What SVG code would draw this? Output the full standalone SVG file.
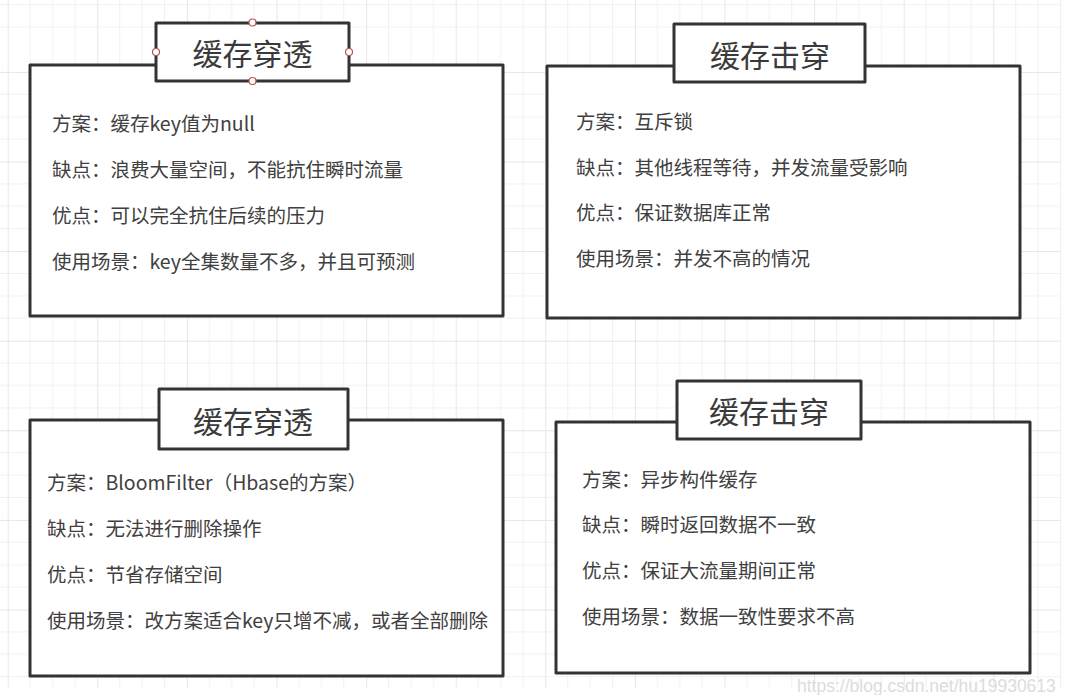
<svg xmlns="http://www.w3.org/2000/svg" width="1087" height="695" viewBox="0 0 1087 695">
<defs>
<pattern id="grid" patternUnits="userSpaceOnUse" x="7.7" y="71.9" width="89.6" height="89.6">
<path d="M22.4 0V89.6M44.8 0V89.6M67.2 0V89.6M0 22.4H89.6M0 44.8H89.6M0 67.2H89.6" stroke="#f1f1f1" stroke-width="1" fill="none"/>
<path d="M0.5 0V89.6M0 0.5H89.6" stroke="#e6e6e6" stroke-width="1" fill="none"/>
</pattern>
<style>
.box{fill:#fff;stroke:#333;stroke-width:3;stroke-linejoin:round}
.title{font-family:"Microsoft YaHei","Noto Sans CJK SC",sans-serif;font-size:30px;fill:#3a3a3a;text-anchor:middle}
.txt{font-family:"Microsoft YaHei","Noto Sans CJK SC",sans-serif;font-size:19.5px;fill:#404040}
.handle{fill:#fff;stroke:#b85450;stroke-width:1.2}
.wm{font-family:"Liberation Sans",Arial,sans-serif;font-size:17.5px;fill:#dcdcdc}
</style>
</defs>
<rect x="0" y="0" width="1087" height="695" fill="#fff"/>
<rect x="0" y="0" width="1061" height="688" fill="url(#grid)"/>
<g id="connectors"/>
<g id="node-tl">
<rect class="box" x="30" y="65" width="473" height="251"/>
<rect class="box" x="156" y="23" width="193" height="58"/>
<text class="title" x="252.5" y="65">缓存穿透</text>
<text class="txt" x="52" y="131">方案：缓存key值为null</text>
<text class="txt" x="52" y="177">缺点：浪费大量空间，不能抗住瞬时流量</text>
<text class="txt" x="52" y="223">优点：可以完全抗住后续的压力</text>
<text class="txt" x="52" y="269">使用场景：key全集数量不多，并且可预测</text>
<circle class="handle" cx="252.5" cy="22.5" r="3.5"/>
<circle class="handle" cx="156" cy="52" r="3.5"/>
<circle class="handle" cx="349" cy="52" r="3.5"/>
<circle class="handle" cx="252.5" cy="81" r="3.5"/>
</g>
<g id="node-tr">
<rect class="box" x="547" y="66" width="473" height="252"/>
<rect class="box" x="674" y="24" width="191" height="58"/>
<text class="title" x="770" y="67">缓存击穿</text>
<text class="txt" x="576" y="129">方案：互斥锁</text>
<text class="txt" x="576" y="175">缺点：其他线程等待，并发流量受影响</text>
<text class="txt" x="576" y="220">优点：保证数据库正常</text>
<text class="txt" x="576" y="266">使用场景：并发不高的情况</text>
</g>
<g id="node-bl">
<rect class="box" x="30" y="420" width="473" height="256"/>
<rect class="box" x="159" y="389" width="189" height="60"/>
<text class="title" x="253" y="433">缓存穿透</text>
<text class="txt" x="47" y="490">方案：BloomFilter（Hbase的方案）</text>
<text class="txt" x="47" y="536">缺点：无法进行删除操作</text>
<text class="txt" x="47" y="582">优点：节省存储空间</text>
<text class="txt" x="47" y="628">使用场景：改方案适合key只增不减，或者全部删除</text>
</g>
<g id="node-br">
<rect class="box" x="556" y="422" width="474" height="251"/>
<rect class="box" x="677" y="381" width="184" height="58"/>
<text class="title" x="769" y="423">缓存击穿</text>
<text class="txt" x="582" y="487">方案：异步构件缓存</text>
<text class="txt" x="582" y="532">缺点：瞬时返回数据不一致</text>
<text class="txt" x="582" y="578">优点：保证大流量期间正常</text>
<text class="txt" x="582" y="624">使用场景：数据一致性要求不高</text>
</g>
<text class="wm" x="797" y="692">https://blog.csdn.net/hu19930613</text>
</svg>
